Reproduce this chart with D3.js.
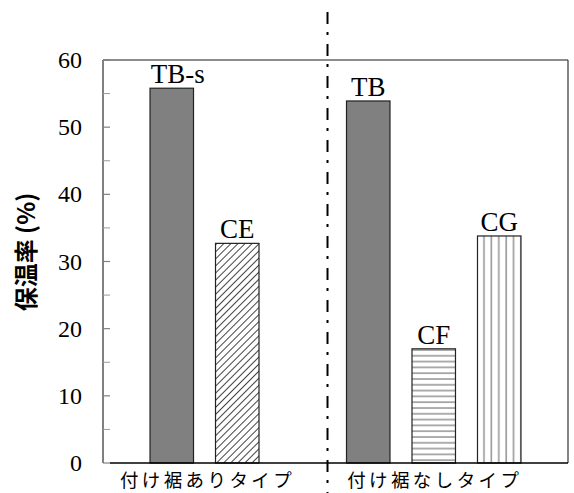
<!DOCTYPE html>
<html><head><meta charset="utf-8">
<script src="https://cdn.jsdelivr.net/npm/d3@7/dist/d3.min.js"></script>
<style>body{margin:0;background:#fff}</style>
</head><body>
<svg id="c" width="574" height="493"></svg>
<script>
const categories = ["TB-s","CE","gap","TB","CF","CG"];
const barNames = ["TB-s","CE","TB","CF","CG"];
const values = [55.8, 32.7, 53.9, 17.0, 33.8];
const fills = ["solid","diag","solid","horiz","vert"];
const yTicks = [0,10,20,30,40,50,60];
const groupLabels = ["付け裾ありタイプ","付け裾なしタイプ"];
const groupMembers = [["TB-s","CE"],["TB","CF","CG"]];
const yTitle = "保温率 (%)";

const svg = d3.select("#c");
const L=103, R=568, T=60, B=463;
const x = d3.scaleBand().domain(categories).range([L,R]).paddingInner(0.336).paddingOuter(0.718);
const y = d3.scaleLinear().domain([0,60]).range([B,T]);
const serif = "Liberation Serif, Times New Roman, serif";

const defs = svg.append("defs");
const pd = defs.append("pattern").attr("id","diag").attr("patternUnits","userSpaceOnUse")
  .attr("width",5).attr("height",5).attr("patternTransform","rotate(45)");
pd.append("rect").attr("width",5).attr("height",5).attr("fill","#fff");
pd.append("line").attr("x1",0).attr("y1",0).attr("x2",0).attr("y2",5).attr("stroke","#444").attr("stroke-width",2);
const ph = defs.append("pattern").attr("id","horiz").attr("patternUnits","userSpaceOnUse").attr("width",6).attr("height",5.8);
ph.append("rect").attr("width",6).attr("height",5.8).attr("fill","#fff");
ph.append("line").attr("x1",0).attr("y1",2).attr("x2",6).attr("y2",2).attr("stroke","#999").attr("stroke-width",1.6);
const pv = defs.append("pattern").attr("id","vert").attr("patternUnits","userSpaceOnUse").attr("width",7.4).attr("height",6);
pv.append("rect").attr("width",7.4).attr("height",6).attr("fill","#fff");
pv.append("line").attr("x1",3).attr("y1",0).attr("x2",3).attr("y2",6).attr("stroke","#999").attr("stroke-width",1.6);

// frame
svg.append("line").attr("x1",L).attr("x2",R).attr("y1",T).attr("y2",T).attr("stroke","#666").attr("stroke-width",1.5);
svg.append("line").attr("x1",R).attr("x2",R).attr("y1",T).attr("y2",B).attr("stroke","#333").attr("stroke-width",1.2);
svg.append("line").attr("x1",L).attr("x2",L).attr("y1",T).attr("y2",B).attr("stroke","#808080").attr("stroke-width",2);

// y ticks (inward) and minor ticks
const minor = d3.range(5,60,10);
svg.selectAll(".mt").data(minor).enter().append("line")
  .attr("x1",L).attr("x2",L+7).attr("y1",d=>y(d)).attr("y2",d=>y(d)).attr("stroke","#999").attr("stroke-width",1);
svg.selectAll(".Mt").data(yTicks).enter().append("line")
  .attr("x1",L).attr("x2",L+7).attr("y1",d=>y(d)).attr("y2",d=>y(d)).attr("stroke","#808080").attr("stroke-width",1.2);
svg.selectAll(".yl").data(yTicks).enter().append("text")
  .attr("x",82).attr("y",d=>y(d)+8).attr("text-anchor","end")
  .attr("font-family",serif).attr("font-size",24).attr("fill","#000")
  .text(d=>d);

// bars
barNames.forEach((n,i)=>{
  const f = fills[i];
  svg.append("rect").attr("x",x(n)).attr("y",y(values[i])).attr("width",x.bandwidth()).attr("height",B-y(values[i]))
    .attr("fill", f==="solid" ? "#808080" : `url(#${f})`).attr("stroke","#222").attr("stroke-width",1.2);
  svg.append("text").attr("x",x(n)+x.bandwidth()/2 + (n==="TB-s"?6:0)).attr("y",y(values[i])-5).attr("text-anchor","middle")
    .attr("font-family",serif).attr("font-size",27).attr("fill","#000").text(n);
});

// bottom axis line
svg.append("line").attr("x1",L+7).attr("x2",R).attr("y1",B).attr("y2",B).attr("stroke","#000").attr("stroke-width",1.6);

// divider
const divX = x("TB") - 0.29*x.step();
svg.append("line").attr("x1",divX).attr("x2",divX).attr("y1",12).attr("y2",493)
  .attr("stroke","#000").attr("stroke-width",2).attr("stroke-dasharray","12,8,3,9");

// group labels
groupLabels.forEach((g,i)=>{
  const m = groupMembers[i];
  const cx = (x(m[0]) + x(m[m.length-1]) + x.bandwidth())/2;
  svg.append("text").attr("x",cx+(i===0?3:1)).attr("y",487).attr("text-anchor","middle")
    .attr("font-family","Noto Sans CJK JP, sans-serif").attr("font-size",18.5).attr("letter-spacing",3.4).attr("fill","#000").text(g);
});

// y title
svg.append("text").attr("transform","translate(35,252) rotate(-90)").attr("text-anchor","middle")
  .attr("font-family","Noto Sans CJK JP, sans-serif").attr("font-weight","bold").attr("font-size",24).attr("fill","#000").text(yTitle);
</script>
</body></html>
